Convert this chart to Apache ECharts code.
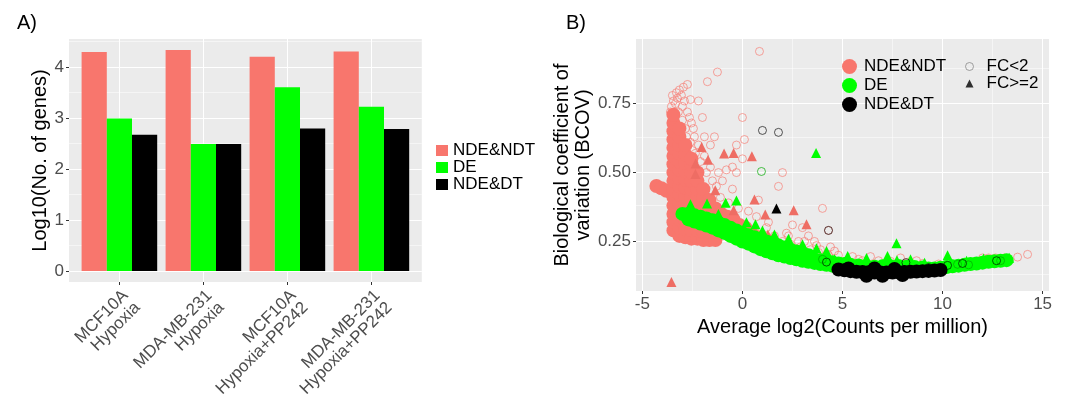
<!DOCTYPE html>
<html><head><meta charset="utf-8">
<script src="https://cdn.jsdelivr.net/npm/echarts@6/dist/echarts.min.js"></script>
<style>html,body{margin:0;padding:0;background:#fff}#c{width:1077px;height:404px}</style>
</head><body><div id="c"></div><script>
// ---------- Panel A data ----------
const categories = ['MCF10A\nHypoxia', 'MDA-MB-231\nHypoxia', 'MCF10A\nHypoxia+PP242', 'MDA-MB-231\nHypoxia+PP242'];
const ndeNdtGenes = [4.29, 4.33, 4.20, 4.30];
const deGenes = [2.99, 2.49, 3.60, 3.22];
const ndeDtGenes = [2.67, 2.49, 2.79, 2.78];
const barYTicks = [0, 1, 2, 3, 4];
const barYMinor = [0.5, 1.5, 2.5, 3.5, 4.5];
const barCenters = [1, 2, 3, 4];

// ---------- Panel B data ----------
const scXTicks = [-5, 0, 5, 10, 15];
const scXMinor = [-2.5, 2.5, 7.5, 12.5];
const scYTicks = [0.25, 0.5, 0.75];
const scYMinor = [0.125, 0.375, 0.625, 0.875];

// dense overlapping FC<2 genes (solid-looking cloud)
const ndeNdtCore = [
 [-4.3,0.451],[-4.05,0.443],[-3.8,0.434],
 [-3.45,0.29],[-3.45,0.32],[-3.45,0.35],[-3.45,0.38],[-3.45,0.41],[-3.45,0.44],[-3.45,0.47],[-3.45,0.50],[-3.45,0.53],[-3.45,0.56],[-3.45,0.59],[-3.45,0.62],[-3.45,0.65],[-3.45,0.68],[-3.45,0.71],
 [-3.15,0.27],[-3.15,0.30],[-3.15,0.33],[-3.15,0.36],[-3.15,0.39],[-3.15,0.42],[-3.15,0.45],[-3.15,0.48],[-3.15,0.51],[-3.15,0.54],[-3.15,0.57],[-3.15,0.60],[-3.15,0.63],[-3.15,0.66],
 [-2.85,0.265],[-2.85,0.295],[-2.85,0.325],[-2.85,0.355],[-2.85,0.385],[-2.85,0.415],[-2.85,0.445],[-2.85,0.475],[-2.85,0.505],[-2.85,0.535],[-2.85,0.565],[-2.85,0.60],
 [-2.55,0.26],[-2.55,0.29],[-2.55,0.32],[-2.55,0.35],[-2.55,0.38],[-2.55,0.41],[-2.55,0.44],[-2.55,0.47],[-2.55,0.50],[-2.55,0.53],[-2.55,0.55],
 [-2.25,0.26],[-2.25,0.29],[-2.25,0.32],[-2.25,0.35],[-2.25,0.38],[-2.25,0.41],[-2.25,0.44],[-2.25,0.47],[-2.25,0.50],
 [-1.95,0.255],[-1.95,0.285],[-1.95,0.315],[-1.95,0.345],[-1.95,0.375],[-1.95,0.41],[-1.95,0.44],
 [-1.65,0.255],[-1.65,0.285],[-1.65,0.315],[-1.65,0.345],[-1.65,0.375],[-1.65,0.40],
 [-1.35,0.255],[-1.35,0.285],[-1.35,0.315],[-1.35,0.345],[-1.35,0.37],
 [-1.05,0.30],[-1.05,0.325],[-1.05,0.35],
 [-0.75,0.29],[-0.75,0.315],[-0.75,0.34],
 [-0.45,0.28],[-0.45,0.305],[-0.45,0.33],
 [-0.15,0.27],[-0.15,0.295],[-0.15,0.31],
 [0.15,0.26],[0.15,0.285],[0.15,0.30],
 [0.5,0.25],[0.5,0.275],[0.9,0.24],[0.9,0.265],[1.3,0.235],[1.3,0.25]
];
const ndeNdtFcLow = [
 [-3.55,0.74],[-3.45,0.76],[-3.3,0.79],[-3.15,0.80],[-2.95,0.81],[-2.75,0.82],[-3.4,0.70],[-3.2,0.72],[-3.0,0.74],
 [-2.6,0.765],[-2.2,0.76],[-2.0,0.70],[-1.75,0.83],[-1.25,0.865],[-1.4,0.63],[-2.55,0.68],[-2.85,0.66],[-2.4,0.63],
 [-2.2,0.60],[-2.5,0.58],[-1.9,0.56],[-1.6,0.52],[-1.2,0.50],[-1.0,0.47],[-0.8,0.51],[-0.5,0.52],[-0.3,0.50],
 [0.0,0.70],[0.1,0.62],[0.0,0.55],[-0.5,0.44],[-1.1,0.41],[-0.7,0.39],[-0.2,0.37],[0.3,0.36],[0.8,0.40],[0.7,0.34],
 [1.3,0.32],[2.0,0.50],[1.8,0.45],[2.5,0.31],[3.0,0.30],[3.3,0.27],[2.2,0.28],[1.6,0.27],[2.8,0.25],[3.6,0.25],
 [4.0,0.37],[4.3,0.29],[4.4,0.23],[3.9,0.22],[2.6,0.22],[1.9,0.215],[3.2,0.20],[4.8,0.20],[5.5,0.195],[6.4,0.195],
 [7.9,0.19],[6.0,0.18],[8.7,0.18],[10.3,0.175],[11.0,0.172],[11.4,0.168],[12.0,0.19],[12.3,0.19],[12.65,0.19],
 [12.85,0.185],[13.1,0.19],[13.75,0.193],[14.25,0.203],[0.85,0.94],[-0.3,0.60],[-3.5,0.68],[-3.4,0.64],[-3.1,0.62],
 [-2.9,0.57],[-2.7,0.53],[0.6,0.29],[1.0,0.27],[1.5,0.26],[2.0,0.25],[2.4,0.24],[2.9,0.23],[3.4,0.22],[3.8,0.21],
 [4.3,0.20],[1.2,0.30],[2.3,0.27],[3.1,0.25],[3.7,0.235],[4.6,0.215],[5.2,0.18],[5.8,0.185],[6.8,0.18],[7.4,0.178],
 [8.3,0.175],[9.0,0.17],[9.8,0.168],
 [-3.6,0.72],[-3.5,0.78],[-3.35,0.75],[-3.25,0.77],[-3.05,0.78],[-2.9,0.76],[-2.75,0.72],[-2.65,0.70],[-3.0,0.69],
 [-2.8,0.63],[-2.6,0.61],[-2.35,0.57],[-2.1,0.54],[-1.8,0.50],[-1.5,0.47],[-1.3,0.45],[-2.45,0.66],[-1.9,0.63],[-1.6,0.60]
];
const ndeNdtFcHigh = [
 [-3.55,0.103],[-2.04,0.593],[-1.72,0.547],[-2.34,0.533],[-0.92,0.569],[-0.44,0.571],[0.47,0.559],[-2.35,0.495],
 [-1.36,0.436],[0.6,0.402],[-0.44,0.363],[1.14,0.348],[2.56,0.363],[3.2,0.312],[1.27,0.275]
];
const deCore = [
 [-3.0,0.35],[-2.7,0.33],[-2.7,0.35],[-2.4,0.322],[-2.4,0.345],[-2.1,0.315],[-2.1,0.34],[-1.8,0.308],[-1.8,0.333],
 [-1.5,0.30],[-1.5,0.327],[-1.2,0.29],[-1.2,0.318],[-0.9,0.281],[-0.9,0.31],[-0.6,0.27],[-0.6,0.30],[-0.3,0.26],[-0.3,0.29],
 [0.0,0.25],[0.0,0.268],[0.0,0.28],[0.3,0.242],[0.3,0.26],[0.3,0.272],[0.6,0.232],[0.6,0.25],[0.6,0.265],
 [0.9,0.222],[0.9,0.24],[0.9,0.257],[1.2,0.214],[1.2,0.232],[1.2,0.25],[1.5,0.207],[1.5,0.224],[1.5,0.243],
 [1.8,0.20],[1.8,0.217],[1.8,0.235],[2.1,0.195],[2.1,0.21],[2.1,0.228],[2.4,0.19],[2.4,0.205],[2.4,0.22],
 [2.7,0.185],[2.7,0.20],[2.7,0.213],[3.0,0.18],[3.0,0.194],[3.0,0.207],[3.3,0.176],[3.3,0.19],[3.3,0.20],
 [3.6,0.172],[3.6,0.185],[3.9,0.168],[3.9,0.182],[4.2,0.165],[4.2,0.178],[4.5,0.162],[4.5,0.174],[4.8,0.16],[4.8,0.17],
 [5.1,0.168],[5.4,0.165],[5.8,0.163],[6.2,0.16],[6.6,0.158],[7.0,0.16],[7.4,0.16],[7.8,0.161],[8.2,0.158],[8.6,0.157],
 [9.0,0.155],[9.3,0.152],[9.6,0.152],[9.9,0.154],[10.2,0.157],[10.5,0.16],[10.8,0.162],[11.1,0.165],[11.4,0.168],
 [11.7,0.17],[12.0,0.173],[12.3,0.176],[12.6,0.178],[12.9,0.18],[13.2,0.182]
];
const deFcLow = [[0.95,0.504],[4.0,0.185],[9.6,0.15],[10.75,0.167],[11.3,0.165],[12.9,0.18]];
const deFcHigh = [
 [3.68,0.571],[-1.77,0.388],[-0.84,0.39],[-0.3,0.399],[0.65,0.312],[7.7,0.243],[7.25,0.197],[7.72,0.182],[10.25,0.20],
 [9.1,0.173],[13.33,0.191],[12.05,0.188],[5.26,0.197],[4.6,0.185],[6.2,0.19],[8.4,0.185],[11.2,0.18],
 [-2.6,0.385],[-1.2,0.35],[0.2,0.32],[1.0,0.29],[1.6,0.275],[2.3,0.26],[3.0,0.24],[3.7,0.225],[4.2,0.215]
];
const ndeDtCore = [
 [4.8,0.148],[5.1,0.145],[5.4,0.142],[5.7,0.14],[6.0,0.139],[6.3,0.138],[6.6,0.137],[6.9,0.137],[7.2,0.137],[7.5,0.137],
 [7.8,0.138],[8.1,0.139],[8.4,0.14],[8.7,0.141],[9.0,0.142],[9.3,0.143],[9.6,0.144],[9.9,0.146],
 [5.3,0.152],[6.2,0.125],[7.0,0.125],[8.0,0.128],[6.6,0.152],[7.6,0.15]
];
const ndeDtFcLow = [[1.0,0.653],[1.8,0.646],[4.2,0.175],[4.3,0.29],[8.17,0.173],[10.25,0.163],[9.3,0.155],[11.0,0.17],[12.7,0.18]];
const ndeDtFcHigh = [[1.7,0.37]];

// ---------- styling ----------
const FONT = '"Liberation Sans", Arial, sans-serif';
const RED = '#F8766D', GREEN = '#00FF00', BLACK = '#000000';
const BG = '#EBEBEB';
const tickStyle = {color: '#333333', width: 1};
const axisText = {fontSize: 17, color: '#4D4D4D', fontFamily: FONT};
const barYMin = -0.2165, barYMax = 4.5465;
const scXMin = -5.32, scXMax = 15.32, scYMin = 0.07, scYMax = 0.985;

function sc(name, data, symbol, size, fill, stroke, z) {
  return {type: 'scatter', name, data, xAxisIndex: 2, yAxisIndex: 2, symbol, symbolSize: size, z,
    label: {show: false}, labelLine: {show: false},
    itemStyle: {color: fill, borderColor: stroke || fill, borderWidth: stroke ? 1 : 0, opacity: 1}, silent: true};
}
function minorLines(xIdx, yIdx, xs, ys) {
  const data = xs.map(v => ({xAxis: v})).concat(ys.map(v => ({yAxis: v})));
  return {type: 'scatter', data: [], xAxisIndex: xIdx, yAxisIndex: yIdx, silent: true, z: 1,
    markLine: {silent: true, z: 1, symbol: ['none', 'none'], label: {show: false}, animation: false,
      lineStyle: {color: '#ffffff', width: 0.5, type: 'solid', opacity: 1}, emphasis: {disabled: true}, data}};
}

const option = {
  animation: false,
  backgroundColor: '#fff',
  textStyle: {fontFamily: FONT},
  title: [
    {text: 'A)', left: 12, top: 8, textStyle: {fontSize: 20, fontWeight: 'normal', color: '#000', fontFamily: FONT}},
    {text: 'B)', left: 561, top: 8, textStyle: {fontSize: 20, fontWeight: 'normal', color: '#000', fontFamily: FONT}}
  ],
  grid: [
    {left: 69, top: 39, width: 352.8, height: 243, show: true, backgroundColor: BG, borderWidth: 0, outerBoundsMode: 'none', containLabel: false},
    {left: 77.4, top: 39, width: 336, height: 243, outerBoundsMode: 'none', containLabel: false},
    {left: 636, top: 39, width: 413, height: 252, show: true, backgroundColor: BG, borderWidth: 0, outerBoundsMode: 'none', containLabel: false}
  ],
  legend: [
    {orient: 'vertical', left: 431, top: 137, itemWidth: 12, itemHeight: 11, itemGap: 0,
     textStyle: {fontSize: 17, color: '#000', fontFamily: FONT, lineHeight: 14},
     data: [
      {name: 'NDE&NDT', icon: 'rect', itemStyle: {color: RED}},
      {name: 'DE', icon: 'rect', itemStyle: {color: GREEN}},
      {name: 'NDE&DT', icon: 'rect', itemStyle: {color: BLACK}}
     ]},
    {orient: 'vertical', left: 837, top: 53, itemWidth: 15, itemHeight: 15, itemGap: 2,
     textStyle: {fontSize: 17, color: '#000', fontFamily: FONT, lineHeight: 15, padding: [0, 0, 0, 2]},
     data: [
      {name: 'NDE&NDT', icon: 'circle', itemStyle: {color: RED, borderWidth: 0}},
      {name: 'DE', icon: 'circle', itemStyle: {color: GREEN, borderWidth: 0}},
      {name: 'NDE&DT', icon: 'circle', itemStyle: {color: BLACK, borderWidth: 0}}
     ]},
    {orient: 'vertical', left: 960, top: 53, itemWidth: 8, itemHeight: 8, itemGap: 0,
     textStyle: {fontSize: 17, color: '#000', fontFamily: FONT, lineHeight: 13.5, padding: [0, 0, 0, 8]},
     data: [
      {name: 'FC<2', icon: 'circle', itemStyle: {color: 'rgba(0,0,0,0)', borderColor: '#8a8a8a', borderWidth: 1}},
      {name: 'FC>=2', icon: 'triangle', itemStyle: {color: BLACK, borderWidth: 0}}
     ]}
  ],
  xAxis: [
    {gridIndex: 0, type: 'value', min: 0.4, max: 4.6, axisLine: {show: false, onZero: false}, axisLabel: {show: false},
     axisTick: {show: false, customValues: barCenters}, splitLine: {show: true, lineStyle: {color: '#fff', width: 1}}},
    {gridIndex: 1, type: 'category', data: categories, axisLine: {show: false, onZero: false},
     axisTick: {show: true, alignWithLabel: true, length: 3, lineStyle: tickStyle},
     axisLabel: Object.assign({interval: 0, rotate: 45, lineHeight: 17, margin: 5, verticalAlign: 'top', align: 'right'}, axisText),
     splitLine: {show: false}},
    {gridIndex: 2, type: 'value', min: scXMin, max: scXMax, axisLine: {show: false, onZero: false},
     axisTick: {show: true, length: 3, customValues: scXTicks, lineStyle: tickStyle},
     axisLabel: Object.assign({customValues: scXTicks, margin: 5}, axisText),
     splitLine: {show: true, lineStyle: {color: '#fff', width: 1}},
     name: 'Average log2(Counts per million)', nameLocation: 'middle', nameGap: 20,
     nameTextStyle: {fontSize: 20, color: '#000', fontFamily: FONT}}
  ],
  yAxis: [
    {gridIndex: 0, type: 'value', min: barYMin, max: barYMax, axisLine: {show: false, onZero: false},
     axisTick: {show: true, length: 3, customValues: barYTicks, lineStyle: tickStyle},
     axisLabel: Object.assign({customValues: barYTicks, margin: 5}, axisText),
     splitLine: {show: true, lineStyle: {color: '#fff', width: 1}},
     name: 'Log10(No. of genes)', nameLocation: 'middle', nameGap: 17,
     nameTextStyle: {fontSize: 20, color: '#000', fontFamily: FONT}},
    {gridIndex: 1, type: 'value', min: barYMin, max: barYMax, show: false, axisLine: {onZero: false}, splitLine: {show: false}},
    {gridIndex: 2, type: 'value', min: scYMin, max: scYMax, axisLine: {show: false, onZero: false},
     axisTick: {show: true, length: 3, customValues: scYTicks, lineStyle: tickStyle},
     axisLabel: Object.assign({customValues: scYTicks, margin: 5, formatter: v => v.toFixed(2)}, axisText),
     splitLine: {show: true, lineStyle: {color: '#fff', width: 1}},
     name: 'Biological coefficient of\nvariation (BCOV)', nameLocation: 'middle', nameGap: 31,
     nameTextStyle: {fontSize: 20, color: '#000', fontFamily: FONT, lineHeight: 21}}
  ],
  series: [
    minorLines(0, 0, [], barYMinor),
    minorLines(2, 2, scXMinor, scYMinor),
    {type: 'bar', name: 'NDE&NDT', data: ndeNdtGenes, xAxisIndex: 1, yAxisIndex: 1, barGap: '0%', barCategoryGap: '10%', itemStyle: {color: RED}},
    {type: 'bar', name: 'DE', data: deGenes, xAxisIndex: 1, yAxisIndex: 1, barGap: '0%', barCategoryGap: '10%', itemStyle: {color: GREEN}},
    {type: 'bar', name: 'NDE&DT', data: ndeDtGenes, xAxisIndex: 1, yAxisIndex: 1, barGap: '0%', barCategoryGap: '10%', itemStyle: {color: BLACK}},
    sc('NDE&NDT', ndeNdtFcLow, 'circle', 8, 'rgba(0,0,0,0)', 'rgba(248,118,109,0.65)', 2),
    sc('NDE&NDT', ndeNdtCore, 'circle', 14, RED, null, 2),
    sc('NDE&NDT', ndeNdtFcHigh, 'triangle', 10, '#EE6D64', null, 2),
    sc('DE', deCore, 'circle', 14, GREEN, null, 3),
    sc('DE', deFcHigh, 'triangle', 10, GREEN, null, 3),
    sc('DE', deFcLow, 'circle', 8, 'rgba(0,0,0,0)', 'rgba(0,170,0,0.7)', 3),
    sc('NDE&DT', ndeDtCore, 'circle', 14, BLACK, null, 4),
    sc('NDE&DT', ndeDtFcLow, 'circle', 8, 'rgba(0,0,0,0)', 'rgba(0,0,0,0.65)', 4),
    sc('NDE&DT', ndeDtFcHigh, 'triangle', 10, BLACK, null, 4),
    {type: 'scatter', name: 'FC<2', data: [], xAxisIndex: 2, yAxisIndex: 2},
    {type: 'scatter', name: 'FC>=2', data: [], xAxisIndex: 2, yAxisIndex: 2}
  ]
};
const chart = echarts.init(document.getElementById('c'), null, {renderer: 'canvas'});
chart.setOption(option);
</script></body></html>
